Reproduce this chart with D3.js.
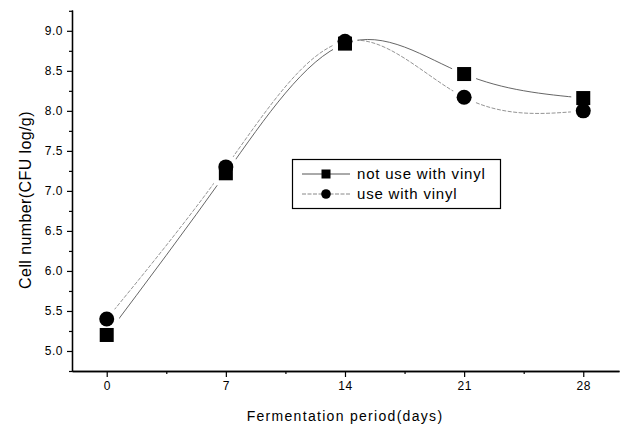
<!DOCTYPE html>
<html>
<head>
<meta charset="utf-8">
<script src="https://cdn.jsdelivr.net/npm/d3@7"></script>
<style>
  body { margin: 0; background: #fff; }
  text { font-family: Arial, "Liberation Sans", sans-serif; fill: #000; }
</style>
</head>
<body>
<div id="chart"></div>
<script>
// data
const days = [0, 7, 14, 21, 28];
const notVinyl = [5.2, 7.22, 8.84, 8.46, 8.16];
const withVinyl = [5.4, 7.3, 8.87, 8.17, 8.0];
const seriesNames = ["not use with vinyl", "use with vinyl"];
const xTicks = [0, 7, 14, 21, 28];
const yTicks = [5.0, 5.5, 6.0, 6.5, 7.0, 7.5, 8.0, 8.5, 9.0];

const W = 625, H = 428;
const svg = d3.select("#chart").append("svg")
    .attr("width", W)
    .attr("height", H);

const x = d3.scaleLinear().domain([-2.04, 30.1]).range([72, 619]);
const y = d3.scaleLinear().domain([4.75, 9.26]).range([371, 10]);

// axes
const xAxis = d3.axisBottom(x).tickValues(xTicks).tickSize(6).tickSizeOuter(0).tickPadding(4);
const xMinor = d3.axisBottom(x).tickValues([3.5, 10.5, 17.5, 24.5]).tickSize(3).tickSizeOuter(0).tickFormat("");
const yAxis = d3.axisLeft(y).tickValues(yTicks).tickSize(5).tickSizeOuter(0).tickPadding(4).tickFormat(d3.format(".1f"));
const yMinor = d3.axisLeft(y).tickValues(d3.range(4.75, 9.26, 0.5)).tickSize(3).tickSizeOuter(0).tickFormat("");

function styleAxis(g) {
    g.select(".domain").attr("stroke", "#000").attr("stroke-width", 1.3);
    g.selectAll(".tick line").attr("stroke", "#000").attr("stroke-width", 1.2);
    g.selectAll(".tick text")
        .style("font-family", "Arial, 'Liberation Sans', sans-serif")
        .style("font-size", "12px")
        .style("letter-spacing", "0.5px")
        .attr("fill", "#000");
}

svg.append("g").attr("transform", "translate(0,371)").call(xMinor).call(styleAxis);
svg.append("g").attr("transform", "translate(0,371)").call(xAxis).call(styleAxis);
svg.append("g").attr("transform", "translate(72,0)").call(yMinor).call(styleAxis);
svg.append("g").attr("transform", "translate(72,0)").call(yAxis).call(styleAxis);

// axis titles
svg.append("text")
    .attr("x", 345)
    .attr("y", 421)
    .attr("text-anchor", "middle")
    .style("font-size", "14px")
    .style("letter-spacing", "1.3px")
    .text("Fermentation period(days)");

svg.append("text")
    .attr("transform", "translate(31,200) rotate(-90)")
    .attr("text-anchor", "middle")
    .style("font-size", "16px")
    .style("letter-spacing", "0.4px")
    .text("Cell number(CFU log/g)");

// curves
const line = d3.line()
    .x(d => x(d[0]))
    .y(d => y(d[1]))
    .curve(d3.curveNatural);

const sq = days.map((d, i) => [d, notVinyl[i]]);
const ci = days.map((d, i) => [d, withVinyl[i]]);

svg.append("path")
    .datum(sq)
    .attr("d", line)
    .attr("fill", "none")
    .attr("stroke", "#555")
    .attr("stroke-width", 0.9);

svg.append("path")
    .datum(ci)
    .attr("d", line)
    .attr("fill", "none")
    .attr("stroke", "#888")
    .attr("stroke-width", 0.9)
    .attr("stroke-dasharray", "4,1.5");

// white gaps around markers, then the markers
const gaps = svg.append("g");
gaps.selectAll("rect").data(sq).join("rect")
    .attr("x", d => x(d[0]) - 7)
    .attr("y", d => y(d[1]) - 7)
    .attr("width", 14).attr("height", 14)
    .attr("fill", "#fff").attr("stroke", "#fff").attr("stroke-width", 10);
gaps.selectAll("circle").data(ci).join("circle")
    .attr("cx", d => x(d[0]))
    .attr("cy", d => y(d[1]))
    .attr("r", 7.5)
    .attr("fill", "#fff").attr("stroke", "#fff").attr("stroke-width", 10);

svg.append("g").selectAll("rect").data(sq).join("rect")
    .attr("x", d => x(d[0]) - 7)
    .attr("y", d => y(d[1]) - 7)
    .attr("width", 14).attr("height", 14)
    .attr("fill", "#000");
svg.append("g").selectAll("circle").data(ci).join("circle")
    .attr("cx", d => x(d[0]))
    .attr("cy", d => y(d[1]))
    .attr("r", 7.5)
    .attr("fill", "#000");

// legend
const legend = svg.append("g");
legend.append("rect")
    .attr("x", 292.5).attr("y", 159.5)
    .attr("width", 208).attr("height", 49)
    .attr("fill", "#fff")
    .attr("stroke", "#000")
    .attr("stroke-width", 1.2);

seriesNames.forEach((name, i) => {
    const cy = 174 + i * 20;
    legend.append("line")
        .attr("x1", 302).attr("x2", 350)
        .attr("y1", cy).attr("y2", cy)
        .attr("stroke", i === 0 ? "#555" : "#888")
        .attr("stroke-dasharray", i === 0 ? null : "4,1.5");
    if (i === 0) {
        legend.append("rect")
            .attr("x", 326 - 4.5).attr("y", cy - 4.5)
            .attr("width", 9).attr("height", 9)
            .attr("fill", "#000");
    } else {
        legend.append("circle")
            .attr("cx", 326).attr("cy", cy)
            .attr("r", 4.8)
            .attr("fill", "#000");
    }
    legend.append("text")
        .attr("x", 357)
        .attr("y", cy + 5)
        .style("font-size", "15px")
        .style("letter-spacing", "0.8px")
        .text(name);
});
</script>
</body>
</html>
